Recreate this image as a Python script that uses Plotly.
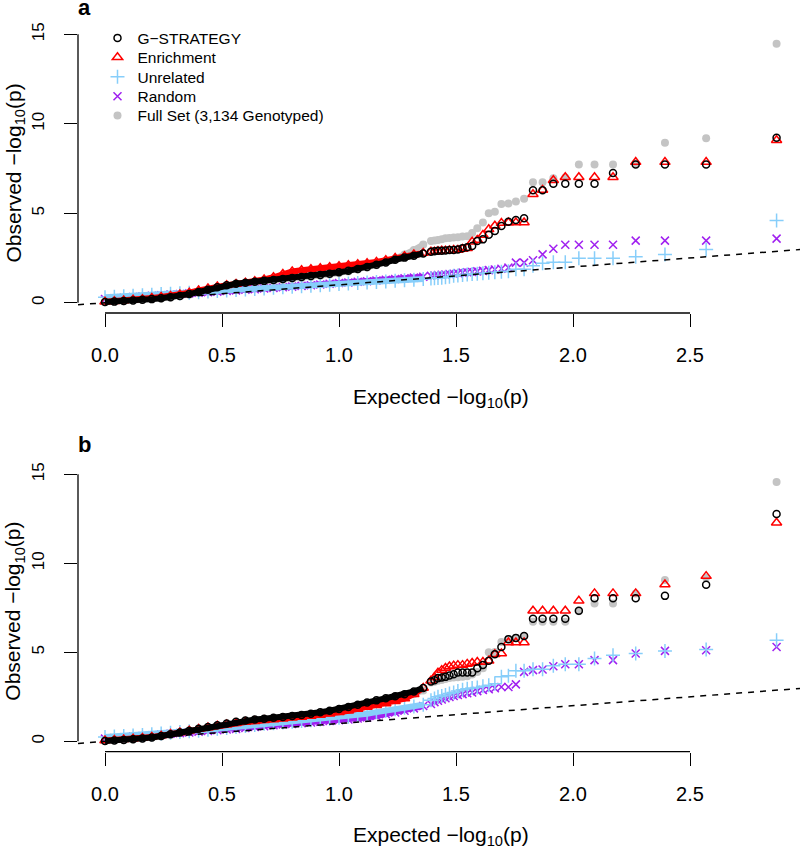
import plotly.graph_objects as go

# ---------------- data ----------------
# expected -log10(p): dense body (sampled) and sparse tail (individual points, k=30..1)
x_dense = [0.00, 0.04, 0.08, 0.12, 0.16, 0.20, 0.24, 0.28, 0.32, 0.36, 0.40, 0.44,
           0.48, 0.52, 0.56, 0.60, 0.64, 0.68, 0.72, 0.76, 0.80, 0.84, 0.88, 0.92,
           0.96, 1.00, 1.04, 1.08, 1.12, 1.16, 1.20, 1.24, 1.28, 1.32, 1.36]
x_tail = [1.393, 1.408, 1.423, 1.439, 1.455, 1.472, 1.490, 1.508, 1.528, 1.548,
          1.569, 1.591, 1.615, 1.640, 1.666, 1.694, 1.724, 1.756, 1.791, 1.829,
          1.870, 1.916, 1.967, 2.025, 2.092, 2.171, 2.268, 2.393, 2.569, 2.870]

# ----- panel a -----
a_gstrat_dense = [0.04, 0.06, 0.09, 0.12, 0.16, 0.20, 0.25, 0.30, 0.38, 0.48, 0.60, 0.72,
                  0.86, 0.98, 1.06, 1.12, 1.17, 1.22, 1.27, 1.32, 1.38, 1.43, 1.49, 1.55,
                  1.62, 1.70, 1.78, 1.88, 2.00, 2.12, 2.25, 2.40, 2.52, 2.62, 2.75]
a_gstrat_tail = [2.85, 2.88, 2.90, 2.90, 2.92, 2.95, 2.95, 2.98, 3.05, 3.10,
                 3.17, 3.45, 3.54, 3.80, 4.01, 4.29, 4.53, 4.62, 4.72, 6.28,
                 6.28, 6.65, 6.65, 6.65, 6.65, 7.25, 7.72, 7.72, 7.72, 9.22]
a_enrich_dense = [0.05, 0.08, 0.12, 0.16, 0.20, 0.26, 0.32, 0.38, 0.46, 0.56, 0.68, 0.80,
                  0.90, 0.98, 1.05, 1.12, 1.20, 1.30, 1.42, 1.60, 1.75, 1.82, 1.87, 1.92,
                  1.98, 2.04, 2.10, 2.15, 2.20, 2.28, 2.38, 2.50, 2.60, 2.70, 2.78]
a_enrich_tail = [2.85, 2.85, 2.88, 2.90, 2.90, 2.92, 2.95, 2.95, 3.00, 3.05,
                 3.41, 3.50, 3.78, 4.10, 4.30, 4.45, 4.48, 4.48, 4.48, 6.06,
                 6.30, 6.84, 7.01, 7.01, 7.01, 7.01, 7.86, 7.86, 7.86, 9.08]
a_unrel_dense = [0.30, 0.33, 0.36, 0.39, 0.42, 0.45, 0.48, 0.50, 0.53, 0.56, 0.59, 0.62,
                 0.65, 0.68, 0.71, 0.74, 0.77, 0.80, 0.83, 0.86, 0.89, 0.92, 0.95, 0.98,
                 1.01, 1.04, 1.07, 1.10, 1.13, 1.16, 1.19, 1.22, 1.25, 1.28, 1.32]
a_unrel_tail = [1.35, 1.37, 1.38, 1.40, 1.42, 1.45, 1.50, 1.52, 1.55, 1.58,
                1.60, 1.62, 1.65, 1.68, 1.70, 1.73, 1.76, 1.87, 1.87, 2.07,
                2.20, 2.26, 2.26, 2.48, 2.48, 2.48, 2.57, 2.70, 2.98, 4.59]
a_random_dense = [0.20, 0.24, 0.28, 0.32, 0.35, 0.39, 0.42, 0.46, 0.49, 0.52, 0.56, 0.59,
                  0.62, 0.65, 0.69, 0.72, 0.75, 0.79, 0.82, 0.86, 0.90, 0.94, 0.98, 1.02,
                  1.06, 1.10, 1.13, 1.17, 1.20, 1.24, 1.28, 1.32, 1.36, 1.40, 1.45]
a_random_tail = [1.50, 1.52, 1.54, 1.56, 1.58, 1.60, 1.62, 1.65, 1.68, 1.70,
                 1.72, 1.75, 1.78, 1.82, 1.86, 1.90, 1.96, 2.24, 2.24, 2.37,
                 2.70, 3.02, 3.24, 3.24, 3.24, 3.24, 3.47, 3.47, 3.47, 3.58]
a_full_dense = [0.03, 0.05, 0.08, 0.11, 0.15, 0.19, 0.24, 0.29, 0.36, 0.45, 0.56, 0.68,
                0.80, 0.92, 1.00, 1.07, 1.12, 1.17, 1.22, 1.27, 1.32, 1.38, 1.44, 1.50,
                1.58, 1.66, 1.75, 1.85, 1.97, 2.10, 2.25, 2.45, 2.70, 2.95, 3.25]
a_full_tail = [3.45, 3.48, 3.50, 3.55, 3.60, 3.62, 3.65, 3.66, 3.70, 3.72,
               3.90, 4.16, 4.48, 5.00, 5.09, 5.52, 5.55, 5.65, 5.81, 6.73,
               6.73, 6.95, 7.00, 7.72, 7.72, 7.72, 7.80, 8.94, 9.19, 14.48]

# ----- panel b -----
b_gstrat_dense = [0.02, 0.05, 0.08, 0.12, 0.16, 0.22, 0.30, 0.40, 0.50, 0.60, 0.70, 0.80,
                  0.90, 1.00, 1.10, 1.17, 1.22, 1.27, 1.32, 1.37, 1.42, 1.48, 1.55, 1.63,
                  1.72, 1.82, 1.93, 2.05, 2.18, 2.30, 2.42, 2.53, 2.65, 2.80, 3.00]
b_gstrat_tail = [3.36, 3.43, 3.55, 3.58, 3.62, 3.70, 3.77, 3.86, 3.86, 3.86,
                 3.86, 4.10, 4.29, 4.52, 4.89, 5.30, 5.74, 5.81, 5.91, 6.88,
                 6.88, 6.88, 6.88, 7.33, 8.04, 8.04, 8.04, 8.17, 8.79, 12.77]
b_enrich_dense = [0.05, 0.08, 0.11, 0.15, 0.19, 0.25, 0.32, 0.41, 0.50, 0.60, 0.69, 0.78,
                  0.87, 0.95, 1.02, 1.08, 1.13, 1.18, 1.22, 1.27, 1.32, 1.37, 1.42, 1.48,
                  1.55, 1.63, 1.72, 1.82, 1.93, 2.03, 2.13, 2.25, 2.40, 2.65, 3.00]
b_enrich_tail = [3.40, 3.60, 3.85, 4.00, 4.12, 4.20, 4.25, 4.28, 4.28, 4.35,
                 4.40, 4.45, 4.45, 4.52, 4.89, 4.93, 5.55, 5.55, 5.55, 7.33,
                 7.33, 7.33, 7.33, 7.89, 8.31, 8.31, 8.31, 8.81, 9.28, 12.28]
b_unrel_dense = [0.24, 0.27, 0.30, 0.33, 0.36, 0.40, 0.44, 0.48, 0.52, 0.56, 0.60, 0.65,
                 0.70, 0.75, 0.80, 0.86, 0.92, 0.98, 1.02, 1.06, 1.10, 1.14, 1.18, 1.22,
                 1.27, 1.32, 1.38, 1.46, 1.55, 1.64, 1.72, 1.80, 1.88, 1.96, 2.05]
b_unrel_tail = [2.30, 2.40, 2.50, 2.55, 2.60, 2.68, 2.74, 2.82, 2.90, 2.95,
                3.00, 3.02, 3.10, 3.15, 3.24, 3.62, 3.69, 3.96, 3.96, 4.05,
                4.05, 4.24, 4.33, 4.33, 4.65, 4.84, 4.93, 5.08, 5.16, 5.68]
b_random_dense = [0.15, 0.19, 0.23, 0.27, 0.30, 0.34, 0.38, 0.42, 0.46, 0.50, 0.54, 0.58,
                  0.62, 0.66, 0.70, 0.75, 0.80, 0.85, 0.90, 0.94, 0.98, 1.02, 1.06, 1.10,
                  1.14, 1.18, 1.23, 1.28, 1.34, 1.42, 1.52, 1.62, 1.72, 1.85, 1.98]
b_random_tail = [2.10, 2.20, 2.28, 2.35, 2.42, 2.49, 2.55, 2.60, 2.65, 2.70,
                 2.74, 2.82, 2.88, 2.92, 2.98, 3.05, 3.05, 3.20, 3.90, 4.00,
                 4.03, 4.22, 4.33, 4.33, 4.56, 4.56, 4.93, 5.08, 5.12, 5.30]
b_full_dense = [0.02, 0.04, 0.07, 0.10, 0.14, 0.20, 0.27, 0.36, 0.46, 0.56, 0.66, 0.76,
                0.86, 0.95, 1.04, 1.10, 1.15, 1.20, 1.25, 1.30, 1.35, 1.40, 1.46, 1.53,
                1.60, 1.70, 1.80, 1.90, 2.02, 2.14, 2.26, 2.38, 2.50, 2.65, 2.85]
b_full_tail = [3.30, 3.35, 3.40, 3.45, 3.50, 3.55, 3.58, 3.60, 3.62, 3.65,
               3.75, 3.90, 4.10, 5.00, 5.02, 5.58, 5.75, 5.80, 5.90, 6.71,
               6.71, 6.71, 6.71, 7.30, 7.74, 7.74, 8.30, 9.06, 9.20, 14.57]

series_names = ["G\u2212STRATEGY", "Enrichment", "Unrelated", "Random",
                "Full Set (3,134 Genotyped)"]
x_ticks = [0.0, 0.5, 1.0, 1.5, 2.0, 2.5]
x_tick_text = ["0.0", "0.5", "1.0", "1.5", "2.0", "2.5"]
y_ticks = [0, 5, 10, 15]
panel_labels = ["a", "b"]

# ---------------- style ----------------
FONT = "Liberation Sans, Arial, Helvetica, sans-serif"
styles = {
    "G\u2212STRATEGY": dict(symbol="circle-open", size=7, color="#000000", lw=1.5),
    "Enrichment": dict(symbol="triangle-up-open", size=9, color="#FF0000", lw=1.5),
    "Unrelated": dict(symbol="cross-thin-open", size=10, color="#87CEFA", lw=1.5),
    "Random": dict(symbol="x-thin-open", size=8, color="#A020F0", lw=1.5),
    "Full Set (3,134 Genotyped)": dict(symbol="circle", size=8, color="#C4C4C4", lw=0),
}
legend_ids = {n: ("legend" if i == 0 else "legend%d" % (i + 1)) for i, n in enumerate(series_names)}
legend_rows_px = [38.3, 57.7, 77.2, 96.6, 115.8]
draw_order = ["Full Set (3,134 Genotyped)", "Random", "Unrelated", "Enrichment", "G\u2212STRATEGY"]

panels = [
    dict(xa="x", ya="y", data={
        "G\u2212STRATEGY": (a_gstrat_dense, a_gstrat_tail),
        "Enrichment": (a_enrich_dense, a_enrich_tail),
        "Unrelated": (a_unrel_dense, a_unrel_tail),
        "Random": (a_random_dense, a_random_tail),
        "Full Set (3,134 Genotyped)": (a_full_dense, a_full_tail)}),
    dict(xa="x2", ya="y2", data={
        "G\u2212STRATEGY": (b_gstrat_dense, b_gstrat_tail),
        "Enrichment": (b_enrich_dense, b_enrich_tail),
        "Unrelated": (b_unrel_dense, b_unrel_tail),
        "Random": (b_random_dense, b_random_tail),
        "Full Set (3,134 Genotyped)": (b_full_dense, b_full_tail)}),
]

fig = go.Figure()
for pi, p in enumerate(panels):
    for name in draw_order:
        st = styles[name]
        dense, tail = p["data"][name]
        mk = dict(symbol=st["symbol"], size=st["size"], color=st["color"],
                  line=dict(color=st["color"], width=st["lw"]))
        fig.add_trace(go.Scatter(x=x_dense, y=dense, xaxis=p["xa"], yaxis=p["ya"],
                                 mode="lines+markers", marker=mk,
                                 line=dict(color=st["color"], width=6),
                                 showlegend=False, hoverinfo="skip"))
        fig.add_trace(go.Scatter(x=x_tail, y=tail, xaxis=p["xa"], yaxis=p["ya"],
                                 mode="markers", marker=mk, name=name,
                                 legend=legend_ids[name],
                                 showlegend=(pi == 0)))

H = 847.0
W_PLOT = 722.0
XR = [-0.1154, 2.9701]
dom_a = [1 - 313.0 / H, 1 - 34.0 / H]
dom_b = [1 - 751.7 / H, 1 - 471.6 / H]
yr_a = [-0.576, 15.02]
yr_b = [-0.583, 15.15]

axis_common = dict(showgrid=False, zeroline=False, showline=False, automargin=False,
                   ticks="outside", ticklen=13, tickwidth=1.3, tickcolor="black")
xax = dict(axis_common, range=XR, tickvals=x_ticks, ticktext=x_tick_text,
           tickfont=dict(family=FONT, size=20, color="black"), ticklabelstandoff=11)
yax = dict(axis_common, tickvals=y_ticks, tickangle=-90,
           tickfont=dict(family=FONT, size=17, color="black"), ticklabelstandoff=13)

layout_legends = {}
for i, n in enumerate(series_names):
    layout_legends[legend_ids[n]] = dict(
        x=(97.5 - 78) / W_PLOT, y=1 - legend_rows_px[i] / H,
        xanchor="left", yanchor="middle",
        bgcolor="rgba(0,0,0,0)", borderwidth=0,
        font=dict(family=FONT, size=15.5, color="black"), itemwidth=30)

fig.update_layout(
    width=800, height=847,
    margin=dict(l=78, r=0, t=0, b=0, pad=0, autoexpand=False),
    paper_bgcolor="white", plot_bgcolor="white",
    font=dict(family=FONT, color="black"),
    xaxis=dict(xax, domain=[0, 1], anchor="y"),
    yaxis=dict(yax, domain=dom_a, range=yr_a, anchor="x"),
    xaxis2=dict(xax, domain=[0, 1], anchor="y2"),
    yaxis2=dict(yax, domain=dom_b, range=yr_b, anchor="x2"),
    showlegend=True,
    **layout_legends,
)

# axis lines (span only the tick range, R style) and y = x reference
for xa, ya in (("x", "y"), ("x2", "y2")):
    fig.add_shape(type="line", xref=xa, yref=ya + " domain", x0=0, x1=2.5, y0=0, y1=0,
                  line=dict(color="black", width=1.3))
    fig.add_shape(type="line", xref=xa + " domain", yref=ya, x0=0, x1=0, y0=0, y1=15,
                  line=dict(color="black", width=1.3))
    fig.add_shape(type="line", xref=xa, yref=ya, x0=XR[0], y0=XR[0], x1=XR[1], y1=XR[1],
                  line=dict(color="black", width=1.5, dash="6px,6px"))

xt_title = "Expected \u2212log<sub>10</sub>(p)"
yt_title = "Observed \u2212log<sub>10</sub>(p)"
for lab, dom, xt_y, lab_y in ((panel_labels[0], dom_a, 398.0, 8.0),
                              (panel_labels[1], dom_b, 835.5, 444.0)):
    fig.add_annotation(text="<b>%s</b>" % lab, xref="paper", yref="paper",
                       x=(84 - 78) / W_PLOT, y=1 - lab_y / H,
                       xanchor="center", yanchor="middle", showarrow=False,
                       font=dict(family=FONT, size=22, color="black"))
    fig.add_annotation(text=xt_title, xref="paper", yref="paper",
                       x=(441 - 78) / W_PLOT, y=1 - xt_y / H,
                       xanchor="center", yanchor="middle", showarrow=False,
                       font=dict(family=FONT, size=21, color="black"))
    fig.add_annotation(text=yt_title, xref="paper", yref="paper",
                       x=(14 - 78) / W_PLOT, y=(dom[0] + dom[1]) / 2,
                       xanchor="center", yanchor="middle", textangle=-90, showarrow=False,
                       font=dict(family=FONT, size=21, color="black"))

fig.write_html("out.html", config={"displayModeBar": False},
               post_script="document.body.style.margin='0px';"
                           "document.body.style.overflow='hidden';")
